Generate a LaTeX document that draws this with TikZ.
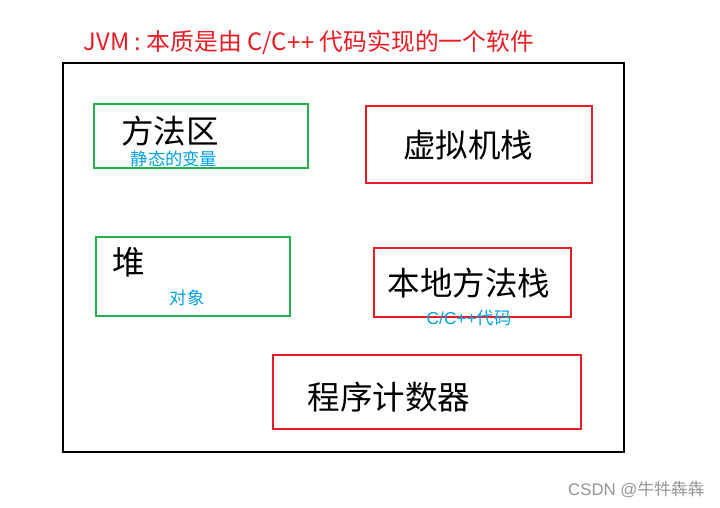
\documentclass[tikz,border=0pt]{standalone}
\usepackage{fontspec}
\newfontfamily\cjk{Noto Sans CJK SC}
\newfontfamily\lat{Liberation Sans}
\definecolor{pred}{RGB}{237,28,36}
\definecolor{pgreen}{RGB}{34,177,76}
\definecolor{pblue}{RGB}{0,162,232}
\definecolor{wgray}{RGB}{150,150,150}
\tikzset{
  redbox/.style={draw=pred,line width=2pt,inner sep=0pt},
  greenbox/.style={draw=pgreen,line width=2pt,inner sep=0pt},
  bigtxt/.style={font=\cjk\fontsize{32.5}{34}\selectfont,text=black,inner sep=0pt},
  subtxt/.style={font=\cjk\fontsize{17.3}{18}\selectfont,text=pblue,inner sep=0pt},
}
\begin{document}
\begin{tikzpicture}[x=1pt,y=-1pt]
\useasboundingbox (0,0) rectangle (720,507);
\fill[white] (0,0) rectangle (720,507);
\node[font=\cjk\fontsize{23.8}{26}\selectfont,text=pred,inner sep=0pt] (title) at (309,42.5) {JVM : 本质是由 C/C{\lat++} 代码实现的一个软件};
\node[draw=black,line width=2pt,minimum width=561pt,minimum height=389pt,inner sep=0pt] (jvm) at (343,257.5) {};
% method area
\node[greenbox,minimum width=214pt,minimum height=64pt] (ma) at (200.5,136) {};
\node[bigtxt] (matxt) at (170,131) {方法区};
\node[subtxt] (masub) at (174,159) {静态的变量};
% vm stack
\node[redbox,minimum width=226pt,minimum height=77pt] (vms) at (479,144.5) {};
\node[bigtxt] (vmstxt) at (468,145) {虚拟机栈};
% heap
\node[greenbox,minimum width=194pt,minimum height=79pt] (heap) at (193,276.5) {};
\node[bigtxt] (heaptxt) at (129,262) {堆};
\node[subtxt] (heapsub) at (187,298) {对象};
% native method stack
\node[redbox,minimum width=197pt,minimum height=69pt] (nms) at (472.5,282.5) {};
\node[bigtxt] (nmstxt) at (469,283) {本地方法栈};
\node[subtxt] (nmssub) at (469,318) {{\lat C/C++}代码};
% program counter
\node[redbox,minimum width=308pt,minimum height=74pt] (pc) at (427,392) {};
\node[bigtxt] (pctxt) at (389,397) {程序计数器};
% watermark
\node[font=\cjk\fontsize{16.8}{18}\selectfont,text=wgray,inner sep=0pt] (wm) at (636.5,490) {{\lat CSDN @}牛牪犇犇};
\end{tikzpicture}
\end{document}
